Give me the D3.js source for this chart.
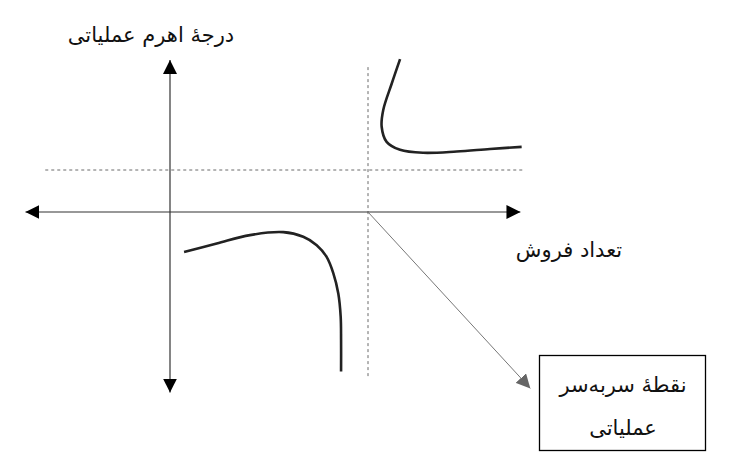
<html>
<head>
<meta charset="utf-8">
<style>
body { margin: 0; background: #fff; }
text { font-family: "DejaVu Sans", sans-serif; }
</style>
</head>
<body>
<div id="chart"></div>
<script src="https://d3js.org/d3.v7.min.js"></script>
<script>
// sales (units) vs degree of operating leverage, break-even at 100 units
var breakEven = 100;
var dolLevel = 1;
var upperSales = [116.2, 112.0, 107.7, 106.9, 109.4, 116.2, 127.9, 144.8, 161.6, 177.6];
var upperDol   = [3.64, 3.06, 2.43, 2.03, 1.67, 1.48, 1.41, 1.44, 1.50, 1.55];
var lowerSales = [7.1, 23.6, 40.4, 57.2, 67.3, 74.1, 79.1, 82.5, 85.0, 86.2, 86.4, 86.4];
var lowerDol   = [-0.95, -0.75, -0.55, -0.48, -0.59, -0.79, -1.07, -1.46, -1.94, -2.49, -3.05, -3.80];
var xAxisRange = [-73, 177];
var yAxisRange = [-4.3, 3.62];
var yLabel = "درجهٔ اهرم عملیاتی";
var xLabel = "تعداد فروش";
var boxLines = ["نقطهٔ سربه‌سر", "عملیاتی"];

var width = 742, height = 471;
var svg = d3.select("#chart").append("svg")
  .attr("width", width).attr("height", height);

var x = d3.scaleLinear().domain([0, 100]).range([170, 368]);
var y = d3.scaleLinear().domain([0, 1]).range([212, 170]);

var defs = svg.append("defs");
function marker(id, color, w, h) {
  defs.append("marker")
    .attr("id", id)
    .attr("viewBox", "0 0 10 10")
    .attr("refX", 10).attr("refY", 5)
    .attr("markerUnits", "userSpaceOnUse")
    .attr("markerWidth", w).attr("markerHeight", h)
    .attr("orient", "auto-start-reverse")
    .append("path")
    .attr("d", "M0,0L10,5L0,10Z")
    .attr("fill", color);
}
marker("arr", "#000", 14, 14);
marker("arrGray", "#666", 14, 14);

// dashed guide lines
svg.append("line")
  .attr("x1", x(-63)).attr("x2", x(178))
  .attr("y1", y(dolLevel)).attr("y2", y(dolLevel))
  .attr("stroke", "#444").attr("stroke-width", 0.8)
  .attr("stroke-dasharray", "3,3");
svg.append("line")
  .attr("x1", x(breakEven)).attr("x2", x(breakEven))
  .attr("y1", y(3.45)).attr("y2", y(-3.94))
  .attr("stroke", "#444").attr("stroke-width", 0.8)
  .attr("stroke-dasharray", "3,3");

// axes
svg.append("line")
  .attr("x1", x(xAxisRange[0])).attr("x2", x(xAxisRange[1]))
  .attr("y1", y(0)).attr("y2", y(0))
  .attr("stroke", "#333").attr("stroke-width", 1.2)
  .attr("marker-start", "url(#arr)").attr("marker-end", "url(#arr)");
svg.append("line")
  .attr("x1", x(0)).attr("x2", x(0))
  .attr("y1", y(yAxisRange[0])).attr("y2", y(yAxisRange[1]))
  .attr("stroke", "#333").attr("stroke-width", 1.2)
  .attr("marker-start", "url(#arr)").attr("marker-end", "url(#arr)");

// curves
var line = d3.line()
  .x(function(d) { return x(d[0]); })
  .y(function(d) { return y(d[1]); })
  .curve(d3.curveCatmullRom.alpha(0.5));

svg.append("path")
  .attr("d", line(d3.zip(upperSales, upperDol)))
  .attr("fill", "none").attr("stroke", "#222").attr("stroke-width", 2.6);
svg.append("path")
  .attr("d", line(d3.zip(lowerSales, lowerDol)))
  .attr("fill", "none").attr("stroke", "#222").attr("stroke-width", 2.6);

// pointer to the box
svg.append("line")
  .attr("x1", x(breakEven)).attr("y1", y(0))
  .attr("x2", x(182)).attr("y2", y(-4.2))
  .attr("stroke", "#777").attr("stroke-width", 1)
  .attr("marker-end", "url(#arrGray)");

// box
svg.append("rect")
  .attr("x", 539.5).attr("y", 355.5)
  .attr("width", 166).attr("height", 95)
  .attr("fill", "#fff").attr("stroke", "#000").attr("stroke-width", 1.3);
svg.selectAll(".boxtxt").data(boxLines).enter().append("text")
  .attr("class", "boxtxt")
  .attr("x", 623)
  .attr("y", function(d, i) { return 392 + i * 43; })
  .attr("text-anchor", "middle")
  .attr("direction", "rtl")
  .attr("font-size", 21)
  .attr("fill", "#111")
  .text(function(d) { return d; });

// labels
svg.append("text")
  .attr("x", 151).attr("y", 42)
  .attr("text-anchor", "middle").attr("direction", "rtl")
  .attr("font-size", 21).attr("fill", "#111")
  .text(yLabel);
svg.append("text")
  .attr("x", 569).attr("y", 257)
  .attr("text-anchor", "middle").attr("direction", "rtl")
  .attr("font-size", 21).attr("fill", "#111")
  .text(xLabel);
</script>
</body>
</html>
